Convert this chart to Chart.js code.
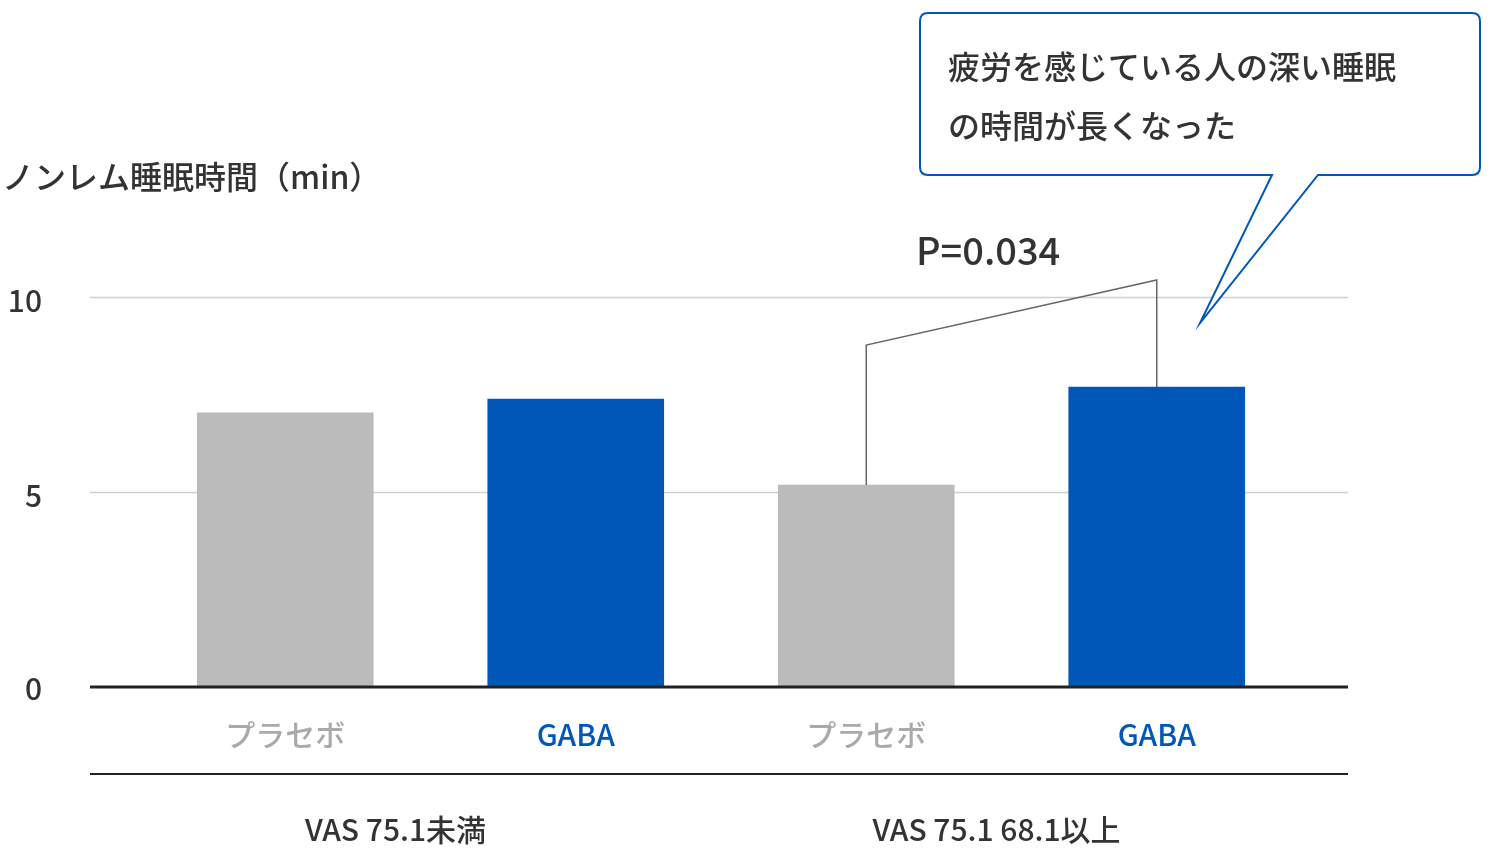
<!DOCTYPE html>
<html><head><meta charset="utf-8">
<script src="https://cdn.jsdelivr.net/npm/chart.js@4"></script>
<style>html,body{margin:0;background:#fff}#w{width:1500px;height:852px}</style>
</head><body><div id="w"><canvas id="c"></canvas></div>
<script>
const categories = ['プラセボ','GABA','プラセボ','GABA'];
const values = [7.03, 7.38, 5.18, 7.69];
const barColors = ['#bbbbbb','#0057b8','#bbbbbb','#0057b8'];
const yTicks = [0,5,10];
const groups = ['VAS 75.1未満','VAS 75.1 68.1以上'];
const yTitle = 'ノンレム睡眠時間（min）';
const pText = 'P=0.034';
const callout = ['疲労を感じている人の深い睡眠','の時間が長くなった'];
const F = '"Noto Sans CJK JP","Noto Sans",sans-serif';

const deco = {
  id:'deco',
  beforeDatasetsDraw(ch){
    const c=ch.ctx, y=ch.scales.y;
    c.save();
    c.strokeStyle='#d0d0d0'; c.lineWidth=1.5;
    yTicks.forEach(t=>{ if(t===0) return; const p=Math.round(y.getPixelForValue(t))+0.5; c.beginPath(); c.moveTo(90,p); c.lineTo(1348,p); c.stroke(); });
    c.fillStyle='#333'; c.font='500 30px '+F; c.textAlign='right'; c.textBaseline='middle';
    yTicks.forEach(t=>{ c.fillText(String(t),42,y.getPixelForValue(t)+(t===0?2:4)); });
    c.textAlign='left'; c.font='500 32px '+F; c.fillText(yTitle,2,177);
    c.restore();
  },
  afterDatasetsDraw(ch){
    const c=ch.ctx, y=ch.scales.y, x=ch.scales.x;
    const bars=ch.getDatasetMeta(0).data;
    c.save();
    c.strokeStyle='#222'; c.lineWidth=3;
    const p0=y.getPixelForValue(0);
    c.beginPath(); c.moveTo(90,p0); c.lineTo(1348,p0); c.stroke();
    c.lineWidth=2; c.beginPath(); c.moveTo(90,774); c.lineTo(1348,774); c.stroke();
    c.fillStyle='#333'; c.font='500 30px '+F; c.textAlign='center'; c.textBaseline='middle';
    c.fillText(groups[0],(x.getPixelForValue(0)+x.getPixelForValue(1))/2-35,830);
    c.fillText(groups[1],(x.getPixelForValue(2)+x.getPixelForValue(3))/2-15,830);
    // bracket
    const b2=bars[2], b3=bars[3];
    c.strokeStyle='#666'; c.lineWidth=1.5;
    c.beginPath(); c.moveTo(b2.x,b2.y); c.lineTo(b2.x,345); c.lineTo(b3.x,280); c.lineTo(b3.x,b3.y); c.stroke();
    c.font='500 38px '+F; c.textAlign='left'; c.fillStyle='#333';
    c.fillText(pText,916,251);
    // callout
    c.strokeStyle='#0057b8'; c.lineWidth=2; c.fillStyle='#fff';
    const L=920,T=13,R=1480,B=175,r=8;
    c.beginPath();
    c.moveTo(L+r,T); c.lineTo(R-r,T); c.quadraticCurveTo(R,T,R,T+r);
    c.lineTo(R,B-r); c.quadraticCurveTo(R,B,R-r,B);
    c.lineTo(1318,B); c.lineTo(1200,323); c.lineTo(1272,B);
    c.lineTo(L+r,B); c.quadraticCurveTo(L,B,L,B-r);
    c.lineTo(L,T+r); c.quadraticCurveTo(L,T,L+r,T); c.closePath();
    c.fill(); c.stroke();
    c.fillStyle='#333'; c.font='500 32px '+F;
    c.fillText(callout[0],948,67); c.fillText(callout[1],948,126);
    c.restore();
  }
};

new Chart(document.getElementById('c'),{
  type:'bar',
  data:{labels:categories,datasets:[{data:values,backgroundColor:barColors,barThickness:176}]},
  options:{
    responsive:true,maintainAspectRatio:false,animation:false,
    layout:{padding:{top:297,left:140,right:198,bottom:0}},
    plugins:{legend:{display:false},tooltip:{enabled:false}},
    scales:{
      x:{grid:{display:false},border:{display:false},
        ticks:{padding:22,color:ctx=>barColors[ctx.index]==='#bbbbbb'?'#aaaaaa':'#0057b8',font:{family:F,size:30,weight:'500'}},
        afterFit(s){s.height=165;}},
      y:{display:false,min:0,max:10}
    }
  },
  plugins:[deco]
});
</script></body></html>
